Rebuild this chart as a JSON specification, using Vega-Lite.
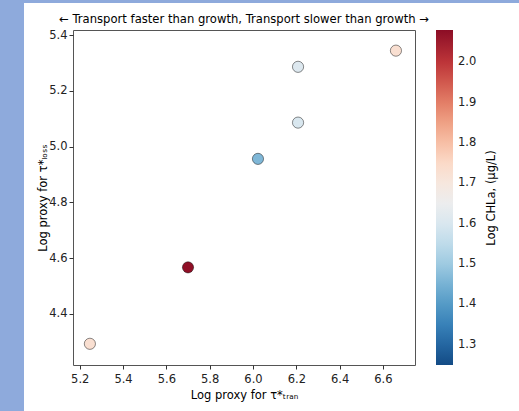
{
  "$schema": "https://vega.github.io/schema/vega-lite/v6.json",
  "background": "white",
  "padding": 0,
  "config": {"font": "DejaVu Sans"},
  "spacing": 0,
  "resolve": {"scale": {"color": "independent"}, "legend": {"color": "independent"}},
  "vconcat": [
    {"width": 519, "height": 3, "data": {"values": []}, "mark": "point", "view": {"fill": "#8eaadc", "stroke": null}},
    {
      "spacing": 13,
      "resolve": {"scale": {"color": "independent"}, "legend": {"color": "independent"}},
      "hconcat": [
        {"width": 24, "height": 408, "data": {"values": []}, "mark": "point", "view": {"fill": "#8eaadc", "stroke": null}},
        {
          "spacing": 0,
          "resolve": {"scale": {"color": "independent"}, "legend": {"color": "independent"}},
          "vconcat": [
            {"width": 10, "height": 10, "data": {"values": []}, "mark": "point", "view": {"stroke": null}},
            {
              "width": 342,
              "height": 335,
              "data": {"values": [
                {"tran": 6.66, "loss": 5.344, "chla": 1.73},
                {"tran": 6.208, "loss": 5.286, "chla": 1.61},
                {"tran": 6.208, "loss": 5.086, "chla": 1.6},
                {"tran": 6.023, "loss": 4.956, "chla": 1.46},
                {"tran": 5.70, "loss": 4.567, "chla": 2.075},
                {"tran": 5.247, "loss": 4.293, "chla": 1.73}
              ]},
              "title": {"text": "← Transport faster than growth, Transport slower than growth →", "fontSize": 11.6, "fontWeight": "normal", "color": "#000", "offset": 3, "anchor": "middle"},
              "view": {"stroke": "#555", "strokeWidth": 1},
              "mark": {"type": "circle", "size": 125, "stroke": "#000", "strokeOpacity": 0.45, "strokeWidth": 1, "opacity": 1},
              "encoding": {
                "x": {"field": "tran", "type": "quantitative",
                  "scale": {"domain": [5.169, 6.748], "nice": false, "zero": false},
                  "axis": {"title": "Log proxy for τ*ₜᵣₐₙ", "values": [5.2, 5.4, 5.6, 5.8, 6.0, 6.2, 6.4, 6.6], "format": ".1f", "grid": false, "domain": false, "tickColor": "#333", "tickSize": 4, "labelPadding": 4, "labelFontSize": 11.5, "labelColor": "#222", "titleFontSize": 11.5, "titleFontWeight": "normal", "titleColor": "#000", "titlePadding": 5}},
                "y": {"field": "loss", "type": "quantitative",
                  "scale": {"domain": [4.217, 5.418], "nice": false, "zero": false},
                  "axis": {"title": "Log proxy for τ*ₗₒₛₛ", "values": [4.4, 4.6, 4.8, 5.0, 5.2, 5.4], "format": ".1f", "grid": false, "domain": false, "tickColor": "#333", "tickSize": 4, "labelPadding": 2, "labelFontSize": 11.5, "labelColor": "#222", "titleFontSize": 11.5, "titleFontWeight": "normal", "titleColor": "#000", "titlePadding": 0}},
                "color": {"field": "chla", "type": "quantitative",
                  "scale": {"scheme": {"name": "redblue", "extent": [1, 0]}, "domain": [1.25, 2.08], "nice": false},
                  "legend": {"title": "Log CHLa, (μg/L)", "orient": "right", "offset": 21, "padding": 0, "gradientLength": 335, "gradientThickness": 17, "gradientStrokeWidth": 0, "values": [1.3, 1.4, 1.5, 1.6, 1.7, 1.8, 1.9, 2.0], "format": ".1f", "labelOverlap": false, "labelFontSize": 11.5, "labelColor": "#222", "labelOffset": 5, "titleOrient": "right", "titleFontSize": 11.5, "titleFontWeight": "normal", "titleColor": "#000", "titleAnchor": "middle", "titleAlign": "center", "titleBaseline": "top", "titlePadding": 10, "encoding": {"title": {"angle": {"value": -90}}}}}
              }
            }
          ]
        }
      ]
    }
  ]
}
